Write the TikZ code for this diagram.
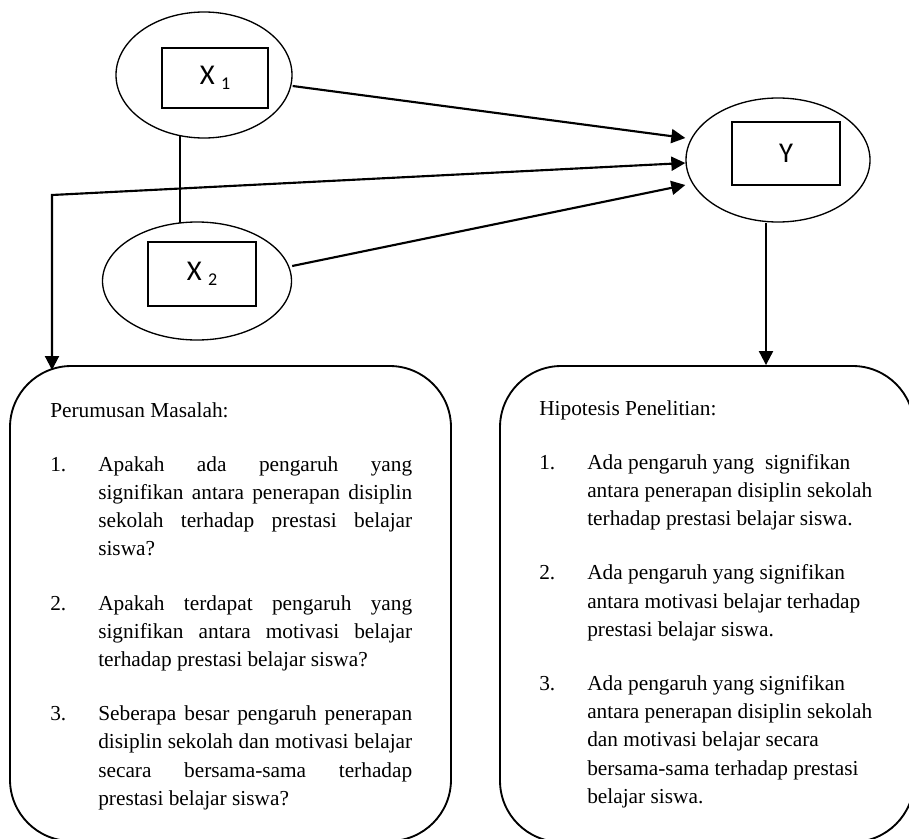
\documentclass[tikz,border=0pt]{standalone}
\usepackage{fontspec}
\setmainfont{Liberation Serif}
\newfontfamily\lblfont{Carlito}
\usetikzlibrary{arrows.meta,shapes.geometric}
\pgfdeclarelayer{bg}
\pgfsetlayers{bg,main}
\newcommand{\subnum}[1]{\raisebox{-3.3pt}{\fontsize{13.5pt}{14pt}\selectfont #1}}
\begin{document}
\begin{tikzpicture}[x=0.75pt,y=-0.75pt,
  >={Triangle[length=10.5pt,width=10.5pt]},
  ell/.style={draw,ellipse,line width=1pt,fill=white,inner sep=0pt},
  lbl/.style={draw,rectangle,line width=1.5pt,fill=white,inner sep=0pt,
              font=\lblfont\fontsize{21.5pt}{24pt}\selectfont},
  conn/.style={line width=1.6pt},
  vline/.style={line width=1.1pt},
  bigbox/.style={draw,rectangle,rounded corners=46pt,line width=1.4pt,inner sep=0pt},
  txt/.style={inner sep=0pt,anchor=base west,
              font=\fontsize{16pt}{21.15pt}\selectfont}
]
\useasboundingbox (0,0) rectangle (909,838);
\clip (0,0) rectangle (909,838);

% boxes
\node[bigbox,minimum width=330.75pt,minimum height=356.25pt] (lbox) at (230.5,603.5) {};
\node[bigbox,minimum width=310.5pt,minimum height=357pt] (rbox) at (707,604) {};

% ellipses
\node[ell,minimum width=132pt,minimum height=94.5pt] (X1) at (204,75) {};
\node[ell,minimum width=141.75pt,minimum height=88.5pt] (X2) at (197,281) {};
\node[ell,minimum width=138pt,minimum height=93pt] (Y) at (778,160) {};

% labels
\node[lbl,minimum width=79.5pt,minimum height=45pt] (X1b) at (215,78) {X\ \subnum{1}};
\node[lbl,minimum width=81pt,minimum height=48pt] (X2b) at (202,274) {X\ \subnum{2}};
\node[lbl,minimum width=81pt,minimum height=47pt] (Yb) at (786,153.5) {Y};

% vertical link X1 - X2 (behind)
\coordinate (vx) at (180,0);
\begin{pgfonlayer}{bg}
\draw[vline] (vx |- X1.center) -- (vx |- X2.center);
\end{pgfonlayer}

% connectors to Y
\draw[conn,->] ([yshift=-8.25pt]X1.east) -- ([yshift=16.5pt]Y.west);
\draw[conn,->] ([yshift=11.25pt]X2.east) -- ([yshift=-18.75pt]Y.west);
\coordinate (lc) at (52,195);
\coordinate (lt) at (52,370);
\draw[conn,<->] (lt) -- (lc) -- ([yshift=-2.25pt]Y.west);
\draw[conn,->] ([xshift=-9pt]Y.south) -- ([xshift=-9pt]Y.south |- rbox.north);

% texts
\node[txt] (ltxt) at (50,417) {\begin{minipage}[t]{271.5pt}%
\tolerance=10000\parindent=0pt
Perumusan Masalah:\par
\vspace{19.5pt}
\hangindent=36pt\hangafter=1
\noindent\makebox[36pt][l]{1.}Apakah ada pengaruh yang\linebreak
signifikan antara penerapan disiplin\linebreak
sekolah terhadap prestasi belajar\linebreak
siswa?\par
\vspace{19.5pt}
\hangindent=36pt\hangafter=1
\noindent\makebox[36pt][l]{2.}Apakah terdapat pengaruh yang\linebreak
signifikan antara motivasi belajar\linebreak
terhadap prestasi belajar siswa?\par
\vspace{19.5pt}
\hangindent=36pt\hangafter=1
\noindent\makebox[36pt][l]{3.}Seberapa besar pengaruh penerapan\linebreak
disiplin sekolah dan motivasi belajar\linebreak
secara bersama-sama terhadap\linebreak
prestasi belajar siswa?\par
\end{minipage}};

\node[txt] (rtxt) at (539,415) {\begin{minipage}[t]{261pt}%
\raggedright\parindent=0pt
Hipotesis Penelitian:\par
\vspace{19.5pt}
\hangindent=36pt\hangafter=1
\noindent\makebox[36pt][l]{1.}Ada pengaruh yang\ \ signifikan\newline
antara penerapan disiplin sekolah\newline
terhadap prestasi belajar siswa.\par
\vspace{19.5pt}
\hangindent=36pt\hangafter=1
\noindent\makebox[36pt][l]{2.}Ada pengaruh yang signifikan\newline
antara motivasi belajar terhadap\newline
prestasi belajar siswa.\par
\vspace{19.5pt}
\hangindent=36pt\hangafter=1
\noindent\makebox[36pt][l]{3.}Ada pengaruh yang signifikan\newline
antara penerapan disiplin sekolah\newline
dan motivasi belajar secara\newline
bersama-sama terhadap prestasi\newline
belajar siswa.\par
\end{minipage}};
\end{tikzpicture}
\end{document}
